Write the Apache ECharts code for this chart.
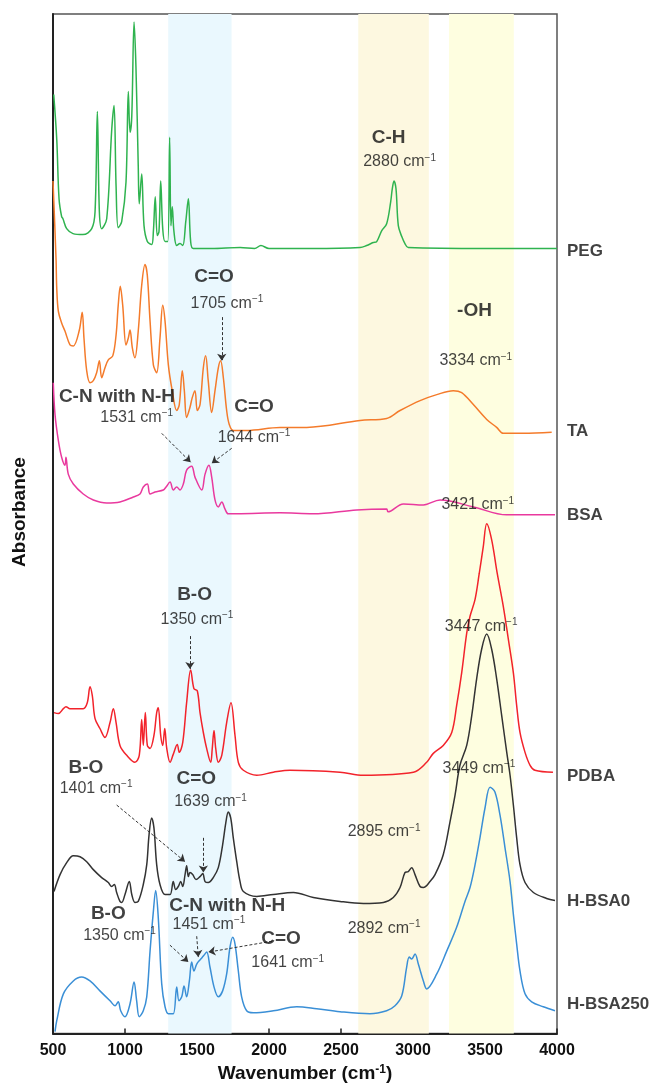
<!DOCTYPE html>
<html>
<head>
<meta charset="utf-8">
<script src="https://cdn.jsdelivr.net/npm/echarts@6.0.0/dist/echarts.min.js"></script>
<style>
  html, body { margin: 0; padding: 0; background: #fff; }
  #chart { width: 652px; height: 1088px; }
</style>
</head>
<body>
<div id="chart"></div>
<script>
// FTIR spectra, stacked with offsets: [wavenumber, absorbance (a.u., offset)]
const PEG = [[505,945],[526,900],[542,840],[560,822],[569,820],[595,810],[639,805],[708,804],[769,810],[792,827],[808,928],[822,827],[838,810],[873,820],[908,910],[924,934],[938,853],[953,811],[977,817],[1007,857],[1023,948],[1035,907],[1047,923],[1063,1018],[1076,973],[1092,873],[1099,835],[1116,865],[1132,813],[1155,797],[1185,794],[1197,807],[1210,842],[1224,803],[1236,807],[1248,858],[1262,810],[1278,797],[1297,797],[1310,902],[1319,813],[1328,832],[1340,807],[1359,793],[1382,795],[1401,793],[1422,817],[1440,840],[1456,797],[1474,790],[1600,790],[1800,791],[1900,790],[1944,793],[2000,790],[2300,790],[2632,791],[2678,793],[2724,796],[2748,797],[2783,808],[2817,815],[2845,837],[2856,850],[2868,858],[2882,850],[2898,813],[2922,802],[2944,795],[2967,791],[3500,790],[4000,790]];
const TA = [[500,858],[521,780],[526,750],[537,727],[560,715],[583,707],[618,693],[641,692],[683,708],[703,726],[715,700],[734,667],[757,655],[780,657],[803,665],[822,677],[838,660],[861,670],[884,678],[915,682],[938,703],[953,733],[967,752],[984,733],[1007,693],[1023,700],[1035,708],[1051,690],[1069,680],[1092,707],[1116,753],[1139,774],[1155,763],[1174,717],[1197,673],[1220,665],[1243,700],[1262,733],[1278,717],[1301,673],[1328,647],[1359,627],[1377,633],[1398,667],[1412,647],[1428,620],[1451,630],[1467,640],[1486,647],[1502,627],[1521,633],[1544,670],[1560,682],[1578,657],[1602,625],[1625,647],[1648,670],[1664,677],[1683,660],[1706,627],[1724,613],[1752,607],[1845,607],[2076,610],[2262,610],[2632,617],[2817,619],[2910,627],[3049,637],[3165,643],[3280,647],[3338,645],[3419,633],[3512,618],[3581,610],[3627,604],[3766,604],[3963,605]];
const BSA = [[502,655],[514,623],[537,597],[560,580],[583,572],[590,580],[606,563],[641,553],[710,543],[780,537],[873,534],[965,535],[1058,540],[1104,543],[1127,550],[1155,553],[1174,543],[1208,545],[1266,547],[1285,550],[1313,555],[1335,547],[1359,550],[1382,547],[1405,553],[1428,567],[1463,571],[1486,560],[1533,547],[1556,563],[1583,572],[1602,560],[1625,537],[1648,530],[1672,535],[1694,528],[1717,523],[1776,523],[2076,524],[2306,523],[2609,527],[2817,528],[2826,525],[2933,533],[3072,532],[3188,537],[3419,530],[3651,522],[3986,522]];
const PDBA = [[507,323],[537,322],[572,327],[590,329],[618,327],[710,327],[738,333],[757,349],[773,340],[792,317],[826,307],[861,298],[896,313],[919,327],[938,313],[965,290],[1012,280],[1069,273],[1099,280],[1116,316],[1127,290],[1141,323],[1155,290],[1174,287],[1201,300],[1220,323],[1231,328],[1248,300],[1262,290],[1276,307],[1290,287],[1313,273],[1335,281],[1363,291],[1377,283],[1401,293],[1428,333],[1456,366],[1479,347],[1502,345],[1521,323],[1544,303],[1567,287],[1595,273],[1606,287],[1618,305],[1630,287],[1648,273],[1672,280],[1706,313],[1736,333],[1764,300],[1787,273],[1822,265],[1915,260],[2030,263],[2146,265],[2493,263],[2655,260],[3003,263],[3095,273],[3141,282],[3210,290],[3269,303],[3303,330],[3338,363],[3373,403],[3396,420],[3431,437],[3460,463],[3488,490],[3512,513],[3546,497],[3585,463],[3627,430],[3662,397],[3697,363],[3720,330],[3743,303],[3778,283],[3813,270],[3847,265],[3972,263]];
const HBSA0 = [[507,143],[549,160],[595,172],[641,179],[688,178],[734,173],[780,165],[838,157],[884,152],[908,148],[926,150],[942,142],[965,133],[977,132],[1000,140],[1030,153],[1047,140],[1069,132],[1092,133],[1127,150],[1151,170],[1167,200],[1185,217],[1201,207],[1220,170],[1243,150],[1278,140],[1313,140],[1335,153],[1352,145],[1370,148],[1387,153],[1401,148],[1417,160],[1428,169],[1440,158],[1451,162],[1470,160],[1493,155],[1521,158],[1540,161],[1556,153],[1578,152],[1613,157],[1648,167],[1678,190],[1701,213],[1717,223],[1734,217],[1752,197],[1776,173],[1799,153],[1822,143],[1915,138],[2030,140],[2169,142],[2308,137],[2493,133],[2655,131],[2794,132],[2863,137],[2910,147],[2944,162],[2967,163],[2991,167],[3014,160],[3049,148],[3072,147],[3118,153],[3153,160],[3210,180],[3257,213],[3292,240],[3326,270],[3373,290],[3408,320],[3442,357],[3477,387],[3512,402],[3546,387],[3581,357],[3616,320],[3651,283],[3674,260],[3697,230],[3720,197],[3743,170],[3778,152],[3836,142],[3928,136],[3986,134]];
const HBSA250 = [[514,2],[526,13],[572,40],[641,53],[699,57],[757,53],[826,43],[896,33],[931,28],[953,32],[970,23],[1000,17],[1035,30],[1063,52],[1081,33],[1099,17],[1127,23],[1151,37],[1174,83],[1197,123],[1213,144],[1231,117],[1255,50],[1278,27],[1301,20],[1335,20],[1359,47],[1375,33],[1394,37],[1410,48],[1428,37],[1447,53],[1463,72],[1479,63],[1498,70],[1526,75],[1544,78],[1567,82],[1590,67],[1618,47],[1648,37],[1678,43],[1706,60],[1729,87],[1748,97],[1764,90],[1787,63],[1810,37],[1845,23],[1891,21],[2030,23],[2192,27],[2331,25],[2493,22],[2701,20],[2817,23],[2875,28],[2922,38],[2956,67],[2974,77],[2991,75],[3014,80],[3037,70],[3072,53],[3095,45],[3165,60],[3234,83],[3303,107],[3361,133],[3396,147],[3431,170],[3465,197],[3500,227],[3535,248],[3569,243],[3604,220],[3639,187],[3674,153],[3697,120],[3720,90],[3743,63],[3778,40],[3824,32],[3905,27],[3986,23]];

const seriesNames = ['PEG', 'TA', 'BSA', 'PDBA', 'H-BSA0', 'H-BSA250'];
const seriesColors = ['#2fb34f', '#f47b2b', '#e9399e', '#f2232b', '#333333', '#3a8fd6'];
const seriesLabelY = [787, 606, 522, 259, 133, 29];

// shaded bands [from, to] in cm-1
const bands = [[1300, 1740, '#eaf8fe'], [2620, 3110, '#fdf8e0'], [3250, 3700, '#fefee0']];

// group labels (bold) and peak positions: [text, x, y]
const groupLabels = [
  ['C-H', 2831, 901], ['C=O', 1618, 762], ['-OH', 3427, 727],
  ['C-N with N-H', 944, 641], ['C=O', 1896, 631], ['B-O', 1483, 442],
  ['B-O', 729, 267], ['C=O', 1495, 256], ['B-O', 884, 121],
  ['C-N with N-H', 1710, 129], ['C=O', 2083, 95]
];
const peakLabels = [
  ['2880', 2907, 877], ['1705', 1708, 735], ['3334', 3436, 677],
  ['1531', 1081, 620], ['1644', 1896, 600], ['3421', 3450, 532],
  ['1350', 1500, 417], ['3447', 3473, 410], ['1401', 799, 247],
  ['1639', 1594, 233], ['3449', 3458, 267], ['2895', 2799, 203],
  ['1350', 962, 99], ['1451', 1583, 110], ['1641', 2130, 71], ['2892', 2799, 106]
];
// dashed arrows [x1, y1, x2, y2]
const arrows = [
  [1672, 721, 1672, 677], [1255, 604, 1456, 575], [1741, 589, 1602, 574],
  [1451, 400, 1451, 367], [942, 230, 1417, 173], [1544, 197, 1544, 162],
  [1312, 89, 1440, 72], [1498, 98, 1509, 77], [2021, 93, 1579, 82]
];

const spectra = [PEG, TA, BSA, PDBA, HBSA0, HBSA250];
const FONT = '"Liberation Sans", Arial, Helvetica, sans-serif';

const chart = echarts.init(document.getElementById('chart'));

const lineSeries = spectra.map((d, i) => ({
  name: seriesNames[i],
  type: 'line',
  data: d,
  symbol: 'none',
  smooth: 0.35,
  silent: true,
  z: 3,
  lineStyle: { color: seriesColors[i], width: 1.5 },
  itemStyle: { color: seriesColors[i] }
}));

const option = {
  animation: false,
  textStyle: { fontFamily: FONT },
  grid: {
    left: 53, right: 95, top: 14, bottom: 48,
    show: true, borderColor: '#555', borderWidth: 1.5
  },
  xAxis: {
    type: 'value',
    min: 500, max: 4000, interval: 500,
    name: '{a|Wavenumber (cm}{s|-1}{a|)}',
    nameLocation: 'middle',
    nameGap: 28,
    nameTextStyle: {
      rich: {
        a: { fontSize: 19, fontWeight: 'bold', color: '#111', fontFamily: FONT, lineHeight: 20 },
        s: { fontSize: 12, fontWeight: 'bold', color: '#111', fontFamily: FONT, lineHeight: 12, verticalAlign: 'top' }
      }
    },
    axisLine: { lineStyle: { color: '#222', width: 2 } },
    axisTick: { inside: true, length: 5, lineStyle: { color: '#222', width: 1.5 } },
    axisLabel: { fontSize: 16, fontWeight: 'bold', color: '#111', margin: 9, formatter: v => String(v) },
    splitLine: { show: false }
  },
  yAxis: {
    type: 'value',
    min: 0, max: 1026,
    axisLine: { show: true, lineStyle: { color: '#222', width: 2 } },
    axisTick: { show: false },
    axisLabel: { show: false },
    splitLine: { show: false }
  },
  graphic: [{
    type: 'text',
    x: 20, y: 512,
    rotation: Math.PI / 2,
    style: {
      text: 'Absorbance',
      font: 'bold 19px ' + FONT,
      fill: '#111',
      align: 'center',
      verticalAlign: 'middle'
    }
  }],
  series: [
    {
      type: 'line',
      data: [],
      z: 1,
      silent: true,
      markArea: {
        silent: true,
        data: bands.map(b => [{ xAxis: b[0], itemStyle: { color: b[2] } }, { xAxis: b[1] }])
      }
    },
    ...lineSeries,
    {
      type: 'scatter',
      symbolSize: 0,
      silent: true,
      z: 5,
      data: groupLabels.map(g => ({ value: [g[1], g[2]], name: g[0] })),
      label: {
        show: true,
        position: 'inside',
        formatter: p => p.name,
        fontSize: 19, fontWeight: 'bold', color: '#111'
      },
      markLine: {
        silent: true,
        symbol: ['none', 'arrow'],
        symbolSize: 7,
        label: { show: false },
        lineStyle: { type: [3, 2], color: '#333', width: 1 },
        data: arrows.map(a => [{ coord: [a[0], a[1]] }, { coord: [a[2], a[3]] }])
      }
    },
    {
      type: 'scatter',
      symbolSize: 0,
      silent: true,
      z: 5,
      data: peakLabels.map(g => ({ value: [g[1], g[2]], name: g[0] })),
      label: {
        show: true,
        position: 'inside',
        formatter: p => '{v|' + p.name + ' cm}{s|\u22121}',
        rich: {
          v: { fontSize: 16, color: '#111', lineHeight: 18 },
          s: { fontSize: 10, color: '#111', lineHeight: 10, verticalAlign: 'top' }
        }
      }
    },
    {
      type: 'scatter',
      symbolSize: 0,
      silent: true,
      data: seriesNames.map((n, i) => ({ value: [4000, seriesLabelY[i]], name: n })),
      label: {
        show: true,
        position: 'right',
        distance: 10,
        formatter: p => p.name,
        fontSize: 17, fontWeight: 'bold', color: '#111'
      }
    }
  ]
};

chart.setOption(option);
</script>
</body>
</html>
